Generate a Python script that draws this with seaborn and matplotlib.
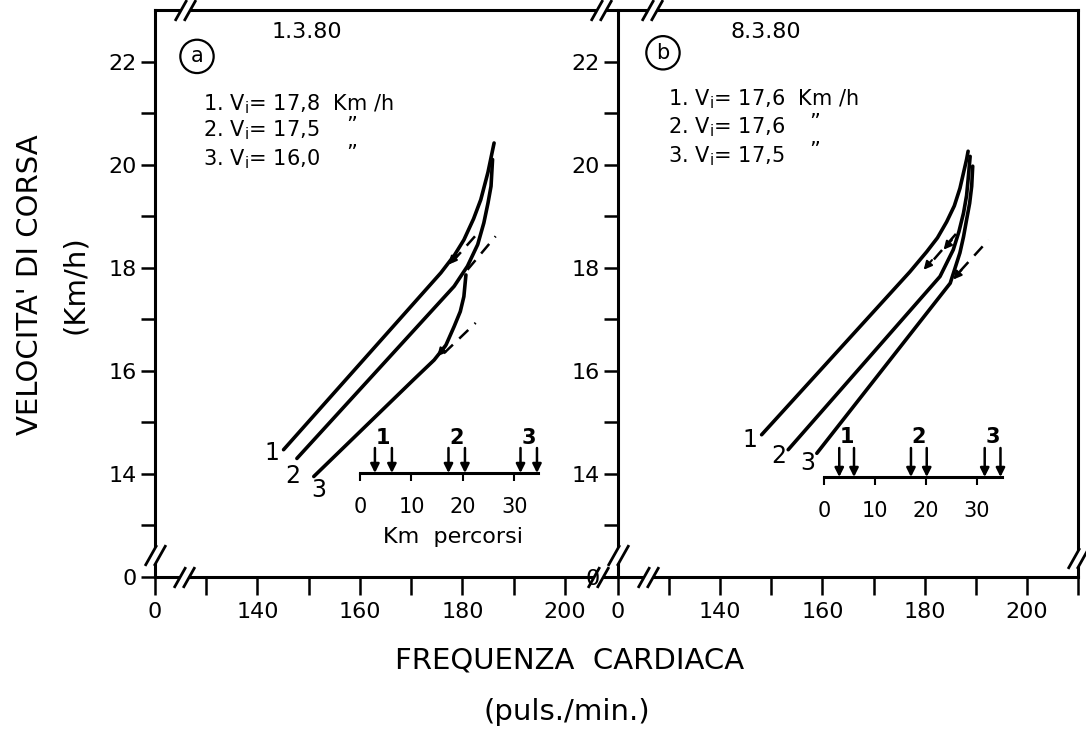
import pandas as pd
import matplotlib.pyplot as plt
import seaborn as sns
from matplotlib.path import Path

# curves: heart rate (puls./min.) vs speed (Km/h)
# panel a - 1.3.80
a1_hr = [145.1, 175.8, 178.5, 180.3, 182.2, 183.6, 185.0, 186.2]
a1_v = [14.47, 17.90, 18.25, 18.54, 18.95, 19.32, 19.85, 20.42]
a2_hr = [147.7, 178.4, 181.0, 183.0, 184.2, 185.0, 185.6, 185.9]
a2_v = [14.30, 17.64, 18.03, 18.45, 18.87, 19.25, 19.58, 20.10]
a3_hr = [151.0, 170.5, 174.5, 176.8, 178.4, 179.6, 180.3, 180.7]
a3_v = [13.95, 15.83, 16.21, 16.50, 16.86, 17.15, 17.44, 17.86]
# dashed linear extensions (x0, x1, y0, y1)
a_dash_hr = [(178.1, 183.0), (181.0, 186.5), (176.4, 182.6)]
a_dash_v = [(18.12, 18.67), (17.96, 18.61), (16.34, 16.93)]
a_arrow_hr = [177.3, 175.1]
a_arrow_v = [18.06, 16.28]

# panel b - 8.3.80
b1_hr = [148.1, 177.1, 180.4, 182.5, 184.3, 185.8, 186.9, 188.2, 188.5]
b1_v = [14.76, 17.92, 18.31, 18.58, 18.89, 19.20, 19.54, 20.10, 20.26]
b2_hr = [153.3, 183.0, 185.6, 186.7, 187.6, 188.2, 188.5, 188.9]
b2_v = [14.47, 17.83, 18.35, 18.70, 19.06, 19.40, 19.71, 20.16]
b3_hr = [158.9, 185.0, 186.9, 187.6, 188.2, 188.8, 189.2, 189.4]
b3_v = [14.40, 17.70, 18.29, 18.60, 18.93, 19.25, 19.58, 19.97]
b_dash_hr = [(181.8, 186.5), (186.9, 192.5)]
b_dash_v = [(18.16, 18.70), (17.93, 18.54)]
b_arrow_hr = [179.8, 183.7, 185.6]
b_arrow_v = [17.96, 18.35, 17.77]

# km percorsi arrows
a_km = [2.9, 6.2, 17.2, 20.4, 31.2, 34.4]
b_km = [3.0, 5.9, 17.1, 20.2, 31.6, 34.7]
km_ticks = [0, 10, 20, 30]

x_ticks = [120, 130, 140, 150, 160, 170, 180, 190, 200]
x_labels = ["0", "", "140", "", "160", "", "180", "", "200"]
y_ticks = [12, 13, 14, 15, 16, 17, 18, 19, 20, 21, 22]
y_labels = ["0", "", "14", "", "16", "", "18", "", "20", "", "22"]

sns.set_theme(style="white")
plt.rcParams["font.family"] = ["DejaVu Sans"]
plt.rcParams["mathtext.default"] = "regular"
plt.rcParams["text.color"] = "black"
plt.rcParams["axes.labelcolor"] = "black"

W, H = 1086, 738
fig = plt.figure(figsize=(W / 100, H / 100), dpi=100)


def px_box(x0, x1, y0, y1):
    # y0 = top pixel, y1 = bottom pixel
    return [x0 / W, 1 - y1 / H, (x1 - x0) / W, (y1 - y0) / H]


ax_a = fig.add_axes(px_box(155, 616, 10, 577))
ax_b = fig.add_axes(px_box(618, 1078, 10, 577))

# break mark markers
slashes = Path([(-0.8, -0.8), (0.1, 0.8), (-0.1, -0.8), (0.8, 0.8)],
               [Path.MOVETO, Path.LINETO, Path.MOVETO, Path.LINETO])
gap = Path([(-0.8, -0.8), (0.1, 0.8), (0.8, 0.8), (-0.1, -0.8), (-0.8, -0.8)],
           [Path.MOVETO, Path.LINETO, Path.LINETO, Path.LINETO, Path.CLOSEPOLY])


def brk(ax, x, y):
    ax.plot([x], [y], marker=gap, ms=15, mfc="white", mec="white", mew=0,
            clip_on=False, zorder=10)
    ax.plot([x], [y], marker=slashes, ms=15, mfc="none", mec="black", mew=2,
            clip_on=False, zorder=11)


panels = [
    (ax_a, [(a1_hr, a1_v), (a2_hr, a2_v), (a3_hr, a3_v)], a_dash_hr, a_dash_v,
     a_arrow_hr, a_arrow_v),
    (ax_b, [(b1_hr, b1_v), (b2_hr, b2_v), (b3_hr, b3_v)], b_dash_hr, b_dash_v,
     b_arrow_hr, b_arrow_v),
]

for ax, curves, dhr, dv, ahr, av in panels:
    rows = []
    for i, (hr, v) in enumerate(curves):
        for h, s in zip(hr, v):
            rows.append({"hr": h, "v": s, "curve": str(i + 1)})
    df = pd.DataFrame(rows)
    sns.lineplot(data=df, x="hr", y="v", units="curve", estimator=None,
                 sort=False, color="black", lw=2.6, ax=ax, legend=False)
    for xs, ys in zip(dhr, dv):
        ax.plot(xs, ys, color="black", lw=1.8, dashes=(5, 3.5))
    for x, y in zip(ahr, av):
        ax.annotate("", xy=(x, y), xytext=(6, 7), textcoords="offset points",
                    arrowprops=dict(arrowstyle="-|>", color="black", lw=1.5,
                                    mutation_scale=12, shrinkA=0, shrinkB=0))

    ax.set_xlim(120, 210)
    ax.set_ylim(12, 23)
    ax.set_xticks(x_ticks)
    ax.set_xticklabels(x_labels)
    ax.set_yticks(y_ticks)
    ax.set_yticklabels(y_labels)
    ax.set_xlabel("")
    ax.set_ylabel("")
    ax.tick_params(axis="x", direction="out", length=13, width=1.8, pad=5,
                   labelsize=16, bottom=True, colors="black")
    ax.tick_params(axis="y", direction="out", length=10, width=1.8, pad=3,
                   labelsize=16, left=True, colors="black")
    for sp in ax.spines.values():
        sp.set_linewidth(2.2)
        sp.set_color("black")
    ax.set_facecolor("white")

ax_a.spines["right"].set_visible(False)
ax_b.set_xticks(x_ticks + [210])
ax_b.set_xticklabels(x_labels + [""])

# break marks
brk(ax_a, 120, 12.43)
brk(ax_a, 125.7, 12)
brk(ax_a, 125.8, 23)
brk(ax_a, 206.5, 12)
brk(ax_a, 207, 23)
brk(ax_b, 120, 12.43)
brk(ax_b, 125.9, 12)
brk(ax_b, 126.6, 23)
brk(ax_b, 210, 12.37)

# panel texts
ax_a.text(149.7, 22.58, "1.3.80", ha="center", va="center", fontsize=16)
ax_a.text(128.2, 22.10, "a", ha="center", va="center", fontsize=15,
          bbox=dict(boxstyle="circle,pad=0.32", fc="none", ec="black", lw=1.6))
ax_a.text(129.4, 21.17, "1. V$_{i}$= 17,8  Km /h", va="center", fontsize=15)
ax_a.text(129.4, 20.66, "2. V$_{i}$= 17,5", va="center", fontsize=15)
ax_a.text(129.4, 20.10, "3. V$_{i}$= 16,0", va="center", fontsize=15)
ax_a.text(158.4, 20.75, "\u201d", ha="center", va="center", fontsize=15)
ax_a.text(158.4, 20.20, "\u201d", ha="center", va="center", fontsize=15)
ax_a.text(142.8, 14.41, "1", ha="center", va="center", fontsize=17)
ax_a.text(146.8, 13.95, "2", ha="center", va="center", fontsize=17)
ax_a.text(152.0, 13.69, "3", ha="center", va="center", fontsize=17)

ax_b.text(149.0, 22.58, "8.3.80", ha="center", va="center", fontsize=16)
ax_b.text(128.8, 22.17, "b", ha="center", va="center", fontsize=15,
          bbox=dict(boxstyle="circle,pad=0.32", fc="none", ec="black", lw=1.6))
ax_b.text(129.8, 21.26, "1. V$_{i}$= 17,6  Km /h", va="center", fontsize=15)
ax_b.text(129.8, 20.72, "2. V$_{i}$= 17,6", va="center", fontsize=15)
ax_b.text(129.8, 20.16, "3. V$_{i}$= 17,5", va="center", fontsize=15)
ax_b.text(158.4, 20.80, "\u201d", ha="center", va="center", fontsize=15)
ax_b.text(158.4, 20.26, "\u201d", ha="center", va="center", fontsize=15)
ax_b.text(145.8, 14.66, "1", ha="center", va="center", fontsize=17)
ax_b.text(151.4, 14.34, "2", ha="center", va="center", fontsize=17)
ax_b.text(157.2, 14.21, "3", ha="center", va="center", fontsize=17)

# Km percorsi insets
insets = [
    (px_box(360, 538, 448, 473), 34.6, a_km, True),
    (px_box(824, 1002, 448, 477), 35.0, b_km, False),
]
for box, kmax, km, with_label in insets:
    ai = fig.add_axes(box)
    ai.set_facecolor("none")
    ai.set_xlim(0, kmax)
    ai.set_ylim(0, 1)
    for s in ["top", "left", "right"]:
        ai.spines[s].set_visible(False)
    ai.spines["bottom"].set_linewidth(2.2)
    ai.spines["bottom"].set_color("black")
    ai.set_yticks([])
    ai.set_xticks(km_ticks)
    ai.set_xticklabels([str(k) for k in km_ticks])
    ai.tick_params(axis="x", direction="out", length=6, width=1.5, pad=11,
                   labelsize=15, bottom=True, colors="black")
    for k in km:
        ai.annotate("", xy=(k, 0), xytext=(k, 1),
                    arrowprops=dict(arrowstyle="-|>", color="black", lw=1.8,
                                    mutation_scale=13, shrinkA=0, shrinkB=0))
    for j in range(3):
        ai.text((km[2 * j] + km[2 * j + 1]) / 2, 1.38, str(j + 1), ha="center",
                va="center", fontsize=15, fontweight="bold")
    if with_label:
        ai.text(0.52, -2.55, "Km  percorsi", transform=ai.transAxes,
                ha="center", va="center", fontsize=16)

# axis titles
fig.text(30 / W, 1 - 285 / H, "VELOCITA' DI CORSA", rotation=90,
         ha="center", va="center", fontsize=21)
fig.text(75 / W, 1 - 285 / H, "(Km/h)", rotation=90,
         ha="center", va="center", fontsize=21)
fig.text(570 / W, 1 - 660 / H, "FREQUENZA  CARDIACA",
         ha="center", va="center", fontsize=21)
fig.text(567 / W, 1 - 712 / H, "(puls./min.)",
         ha="center", va="center", fontsize=21)

fig.savefig("out.png", dpi=100, facecolor="white")
